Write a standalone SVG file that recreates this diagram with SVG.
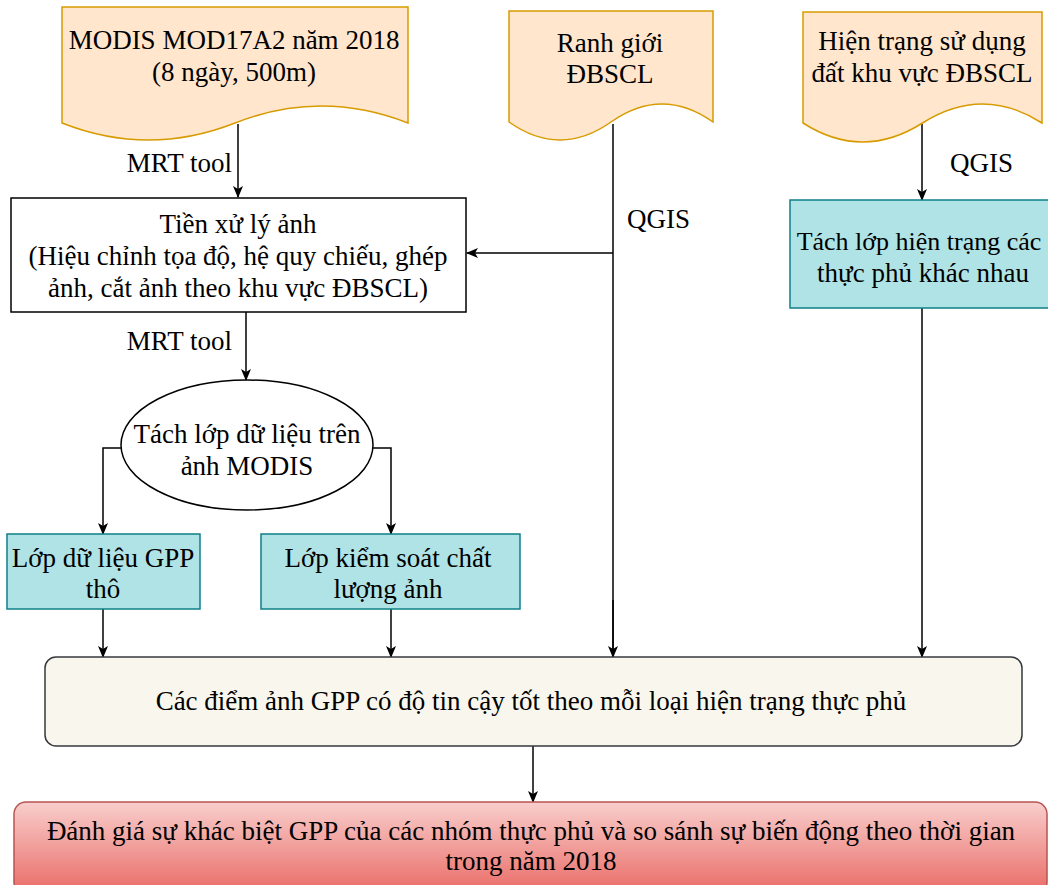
<svg xmlns="http://www.w3.org/2000/svg" width="1048" height="885" viewBox="0 0 1048 885">
<style>
text{font-family:"Liberation Serif","Times New Roman",serif;font-size:27px;fill:#000;text-anchor:middle}
.doc{fill:#ffe6cc;stroke:#d79b00;stroke-width:1.5}
.cy{fill:#b0e3e6;stroke:#0e8088;stroke-width:1.5}
.ln{fill:none;stroke:#000;stroke-width:1.5}
.lnm{fill:none;stroke:#000;stroke-width:1.5;marker-end:url(#arr)}
.lbl{text-anchor:start}
.lblr{text-anchor:end}
</style>
<defs>
<marker id="arr" viewBox="0 0 12 10" refX="11" refY="5" markerWidth="12" markerHeight="10" markerUnits="userSpaceOnUse" orient="auto">
<path d="M0,0 L12,5 L0,10 L3,5 Z" fill="#000"/>
</marker>
<linearGradient id="red" x1="0" y1="0" x2="0" y2="1">
<stop offset="0" stop-color="#f8cecc"/>
<stop offset="1" stop-color="#ea6b66"/>
</linearGradient>
</defs>
<g id="connectors">
<path class="lnm" d="M238,124 V197"/>
<path class="lnm" d="M246,312 V380"/>
<path class="ln" d="M613,124 V657"/>
<path class="lnm" d="M613,253 H467"/>
<path class="lnm" d="M613,600 V657"/>
<path class="lnm" d="M922,124 V200"/>
<path class="lnm" d="M922,308 V657"/>
<path class="lnm" d="M121,448 H103 V534"/>
<path class="lnm" d="M373,448 H391 V534"/>
<path class="lnm" d="M103,609 V657"/>
<path class="lnm" d="M391,609 V657"/>
<path class="lnm" d="M533,746 V802"/>
<text class="lblr" x="232" y="172">MRT tool</text>
<text class="lblr" x="232" y="350">MRT tool</text>
<text class="lbl" x="627" y="228">QGIS</text>
<text class="lbl" x="950" y="172">QGIS</text>
</g>
<g id="modis">
<path class="doc" d="M62,7 H408 V123 Q321.5,89 235,123 Q148.5,157 62,123 Z"/>
<text x="234" y="49">MODIS MOD17A2 năm 2018</text>
<text x="234" y="81">(8 ngày, 500m)</text>
</g>
<g id="ranhgioi">
<path class="doc" d="M509,11 H713 V122 Q662,86 611,122 Q560,158 509,122 Z"/>
<text x="610" y="52">Ranh giới</text>
<text x="610" y="83">ĐBSCL</text>
</g>
<g id="hientrang">
<path class="doc" d="M803,12 H1042 V123 Q982.5,85 922.5,123 Q862.5,161 803,123 Z"/>
<text x="922" y="50">Hiện trạng sử dụng</text>
<text x="922" y="82">đất khu vực ĐBSCL</text>
</g>
<g id="tienxuly">
<rect x="11" y="198" width="455" height="114" fill="#fff" stroke="#000" stroke-width="1.5"/>
<text x="238" y="233">Tiền xử lý ảnh</text>
<text x="238" y="265">(Hiệu chỉnh tọa độ, hệ quy chiếu, ghép</text>
<text x="238" y="297">ảnh, cắt ảnh theo khu vực ĐBSCL)</text>
</g>
<g id="tachlophientrang">
<rect class="cy" x="790" y="200" width="266" height="108"/>
<text x="919" y="250" style="font-size:26px">Tách lớp hiện trạng các</text>
<text x="923" y="282">thực phủ khác nhau</text>
</g>
<g id="tachlopmodis">
<ellipse cx="247" cy="445" rx="126" ry="65" fill="#fff" stroke="#000" stroke-width="1.5"/>
<text x="247" y="443">Tách lớp dữ liệu trên</text>
<text x="247" y="475">ảnh MODIS</text>
</g>
<g id="gpptho">
<rect class="cy" x="7" y="534" width="193" height="75"/>
<text x="103" y="567">Lớp dữ liệu GPP</text>
<text x="103" y="598">thô</text>
</g>
<g id="kiemsoat">
<rect class="cy" x="261" y="534" width="259" height="75"/>
<text x="388" y="567">Lớp kiểm soát chất</text>
<text x="388" y="598">lượng ảnh</text>
</g>
<g id="diemanh">
<rect x="45" y="657" width="977" height="89" rx="11" fill="#f9f7ed" stroke="#36393d" stroke-width="1.5"/>
<text x="531" y="710">Các điểm ảnh GPP có độ tin cậy tốt theo mỗi loại hiện trạng thực phủ</text>
</g>
<g id="danhgia">
<rect x="14" y="802" width="1033" height="92" rx="12" fill="url(#red)" stroke="#b85450" stroke-width="1.5"/>
<text x="531" y="840">Đánh giá sự khác biệt GPP của các nhóm thực phủ và so sánh sự biến động theo thời gian</text>
<text x="531" y="870">trong năm 2018</text>
</g>
</svg>
